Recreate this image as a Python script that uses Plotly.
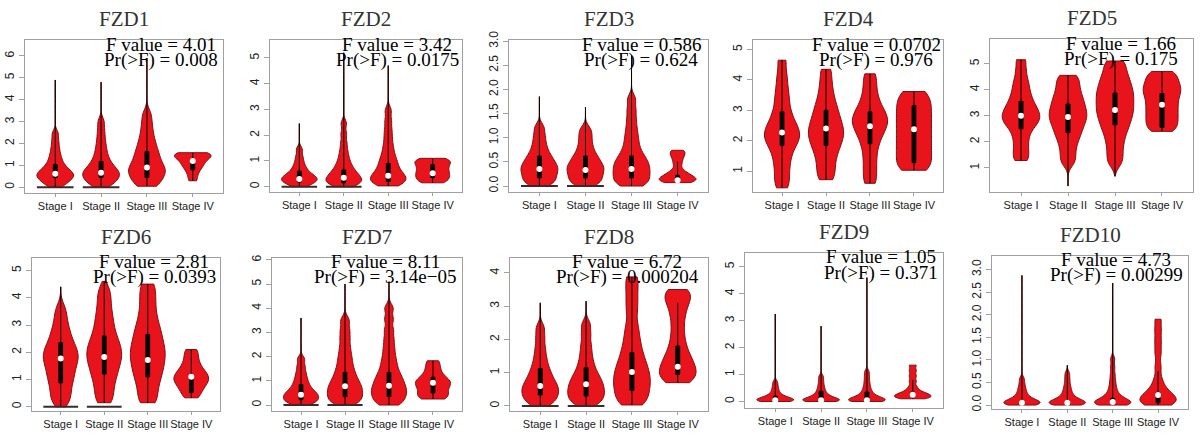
import plotly.graph_objects as go

# ---------------- data ----------------
stages = ["Stage I", "Stage II", "Stage III", "Stage IV"]
genes = ["FZD1", "FZD2", "FZD3", "FZD4", "FZD5", "FZD6", "FZD7", "FZD8", "FZD9", "FZD10"]
f_values = ["4.01", "3.42", "0.586", "0.0702", "1.66", "2.81", "8.11", "6.72", "1.05", "4.73"]
p_values = ["0.008", "0.0175", "0.624", "0.976", "0.175", "0.0393", "3.14e\u221205", "0.000204", "0.371", "0.00299"]

# representative expression values per stage (violin bodies);
# each violin spans the observed min..max of its stage
fzd1_samples = [
    [0.05, 0.15, 0.25, 0.33, 0.4, 0.46, 0.52, 0.57, 0.62, 0.68, 0.75, 0.83, 0.92, 1.04, 1.18, 1.35, 1.55, 1.8, 2.1, 2.45],
    [0.05, 0.15, 0.25, 0.33, 0.42, 0.48, 0.55, 0.62, 0.68, 0.75, 0.83, 0.92, 1.02, 1.15, 1.3, 1.48, 1.7, 1.95, 2.25, 2.6, 3.0],
    [0.05, 0.15, 0.3, 0.45, 0.55, 0.65, 0.75, 0.85, 0.95, 1.05, 1.2, 1.35, 1.5, 1.65, 1.85, 2.05, 2.3, 2.6, 2.95, 3.35],
    [0.3, 0.55, 0.75, 0.9, 1.0, 1.1, 1.2, 1.28, 1.35, 1.42, 1.48, 1.52, 1.55, 1.58],
]
fzd1_bandwidth = [0.17, 0.2, 0.25, 0.15]
fzd1_q1 = [0.45, 0.45, 0.45, 0.8]
fzd1_median = [0.62, 0.67, 0.9, 1.2]
fzd1_q3 = [1.04, 1.18, 1.63, 1.28]
fzd1_min = [0.0, 0.0, 0.05, 0.3]
fzd1_max = [4.9, 4.8, 5.9, 1.58]
fzd1_zero_spike = [1, 1, 0, 0]

fzd2_samples = [
    [0.03, 0.1, 0.15, 0.2, 0.24, 0.28, 0.32, 0.36, 0.4, 0.46, 0.52, 0.6, 0.7, 0.82, 0.98, 1.18, 1.45],
    [0.03, 0.08, 0.13, 0.18, 0.23, 0.28, 0.33, 0.38, 0.44, 0.5, 0.58, 0.66, 0.76, 0.88, 1.02, 1.2, 1.42, 1.7, 2.05, 2.45],
    [0.05, 0.12, 0.18, 0.24, 0.3, 0.36, 0.42, 0.5, 0.58, 0.68, 0.8, 0.92, 1.05, 1.2, 1.4, 1.62, 1.9, 2.2, 2.55, 2.95],
    [0.15, 0.22, 0.3, 0.38, 0.45, 0.52, 0.6, 0.68, 0.76, 0.84, 0.92, 0.98, 1.04, 1.1],
]
fzd2_bandwidth = [0.12, 0.15, 0.17, 0.12]
fzd2_q1 = [0.18, 0.15, 0.2, 0.35]
fzd2_median = [0.3, 0.35, 0.42, 0.52]
fzd2_q3 = [0.6, 0.65, 0.9, 0.85]
fzd2_min = [0.0, 0.0, 0.03, 0.15]
fzd2_max = [2.45, 5.2, 4.7, 1.1]
fzd2_zero_spike = [1, 1, 0, 0]

fzd3_samples = [
    [0.02, 0.07, 0.12, 0.17, 0.22, 0.27, 0.32, 0.36, 0.4, 0.45, 0.5, 0.56, 0.62, 0.7, 0.8, 0.92, 1.06, 1.22],
    [0.02, 0.07, 0.12, 0.17, 0.22, 0.27, 0.32, 0.36, 0.4, 0.45, 0.5, 0.56, 0.62, 0.7, 0.8, 0.92, 1.05, 1.18],
    [0.0, 0.05, 0.1, 0.15, 0.2, 0.25, 0.3, 0.35, 0.4, 0.45, 0.5, 0.56, 0.62, 0.7, 0.8, 0.92, 1.05, 1.2, 1.38, 1.58, 1.8],
    [0.07, 0.09, 0.11, 0.13, 0.15, 0.17, 0.2, 0.23, 0.27, 0.33, 0.45, 0.55, 0.63, 0.69, 0.74],
]
fzd3_bandwidth = [0.09, 0.09, 0.1, 0.06]
fzd3_q1 = [0.17, 0.17, 0.17, 0.1]
fzd3_median = [0.35, 0.33, 0.35, 0.12]
fzd3_q3 = [0.62, 0.62, 0.62, 0.22]
fzd3_min = [0.0, 0.0, 0.0, 0.07]
fzd3_max = [1.85, 1.63, 2.7, 0.74]
fzd3_zero_spike = [1, 1, 0, 0]

fzd4_samples = [
    [0.45, 0.7, 0.95, 1.2, 1.42, 1.62, 1.78, 1.92, 2.02, 2.12, 2.22, 2.32, 2.42, 2.54, 2.68, 2.85, 3.05, 3.3, 3.55, 3.85, 4.2, 4.65],
    [0.72, 0.95, 1.2, 1.45, 1.65, 1.82, 1.97, 2.1, 2.22, 2.34, 2.46, 2.6, 2.75, 2.92, 3.1, 3.32, 3.6, 3.95, 4.35],
    [0.6, 0.9, 1.2, 1.5, 1.78, 2.0, 2.18, 2.32, 2.45, 2.56, 2.66, 2.76, 2.88, 3.0, 3.15, 3.35, 3.6, 3.9, 4.2],
    [1.03, 1.2, 1.4, 1.6, 1.8, 2.0, 2.2, 2.4, 2.6, 2.8, 3.0, 3.2, 3.4, 3.62],
]
fzd4_bandwidth = [0.22, 0.25, 0.22, 0.25]
fzd4_q1 = [1.85, 1.85, 1.9, 1.28]
fzd4_median = [2.27, 2.4, 2.48, 2.38]
fzd4_q3 = [2.95, 3.0, 2.95, 3.15]
fzd4_min = [0.45, 0.72, 0.6, 1.03]
fzd4_max = [4.65, 4.35, 4.2, 3.62]
fzd4_zero_spike = [0, 0, 0, 0]

fzd5_samples = [
    [1.28, 1.52, 1.78, 2.05, 2.3, 2.5, 2.65, 2.76, 2.86, 2.96, 3.06, 3.16, 3.28, 3.4, 3.55, 3.72, 3.92, 4.15, 4.4, 4.75, 5.15],
    [1.2, 1.5, 1.8, 2.05, 2.25, 2.42, 2.58, 2.72, 2.85, 2.97, 3.09, 3.21, 3.34, 3.48, 3.62, 3.78, 3.95, 4.15, 4.35, 4.55],
    [1.2, 1.55, 1.9, 2.2, 2.45, 2.65, 2.83, 3.0, 3.15, 3.3, 3.45, 3.6, 3.75, 3.9, 4.05, 4.22, 4.4, 4.6, 4.85, 5.1],
    [2.4, 2.55, 2.7, 2.85, 3.0, 3.15, 3.3, 3.45, 3.6, 3.75, 3.88, 4.0, 4.12, 4.25, 4.4, 4.55, 4.7],
]
fzd5_bandwidth = [0.2, 0.2, 0.22, 0.2]
fzd5_q1 = [2.5, 2.35, 2.65, 2.55]
fzd5_median = [3.0, 2.95, 3.22, 3.42]
fzd5_q3 = [3.55, 3.45, 3.87, 3.85]
fzd5_min = [1.28, 0.3, 0.68, 2.4]
fzd5_max = [5.15, 4.55, 5.1, 4.7]
fzd5_zero_spike = [0, 0, 0, 0]

fzd6_samples = [
    [0.1, 0.3, 0.5, 0.7, 0.9, 1.05, 1.2, 1.35, 1.5, 1.62, 1.74, 1.85, 1.96, 2.08, 2.2, 2.35, 2.52, 2.72, 2.95, 3.25, 3.6],
    [0.15, 0.4, 0.65, 0.9, 1.1, 1.28, 1.45, 1.6, 1.74, 1.87, 2.0, 2.13, 2.27, 2.42, 2.6, 2.8, 3.05, 3.3, 3.6, 3.95, 4.3],
    [0.15, 0.4, 0.7, 0.95, 1.15, 1.35, 1.52, 1.68, 1.85, 2.0, 2.15, 2.32, 2.5, 2.7, 2.9, 3.15, 3.45, 3.8, 4.15, 4.5],
    [0.33, 0.5, 0.65, 0.78, 0.88, 0.97, 1.05, 1.13, 1.22, 1.33, 1.47, 1.65, 1.88, 2.1],
]
fzd6_bandwidth = [0.25, 0.27, 0.28, 0.18]
fzd6_q1 = [0.88, 1.2, 1.1, 0.52]
fzd6_median = [1.77, 1.83, 1.72, 1.1]
fzd6_q3 = [2.35, 2.6, 2.65, 1.12]
fzd6_min = [0.0, 0.15, 0.15, 0.33]
fzd6_max = [4.4, 4.6, 4.5, 2.1]
fzd6_zero_spike = [1, 1, 0, 0]

fzd7_samples = [
    [0.03, 0.1, 0.17, 0.23, 0.29, 0.35, 0.41, 0.47, 0.54, 0.62, 0.72, 0.84, 0.98, 1.15, 1.35, 1.6, 1.9],
    [0.05, 0.15, 0.25, 0.35, 0.45, 0.55, 0.65, 0.75, 0.85, 0.97, 1.1, 1.25, 1.42, 1.62, 1.85, 2.1, 2.4, 2.75, 3.1, 3.5],
    [0.0, 0.12, 0.24, 0.35, 0.45, 0.55, 0.65, 0.75, 0.86, 0.98, 1.1, 1.24, 1.4, 1.6, 1.82, 2.08, 2.38, 2.72, 3.1, 3.55, 4.0],
    [0.25, 0.3, 0.4, 0.5, 0.6, 0.7, 0.8, 0.88, 0.95, 1.03, 1.12, 1.25, 1.42, 1.62, 1.83],
]
fzd7_bandwidth = [0.13, 0.18, 0.18, 0.15]
fzd7_q1 = [0.22, 0.35, 0.35, 0.5]
fzd7_median = [0.43, 0.78, 0.8, 0.92]
fzd7_q3 = [0.85, 1.35, 1.35, 1.15]
fzd7_min = [0.0, 0.0, 0.0, 0.25]
fzd7_max = [3.6, 5.0, 5.1, 1.83]
fzd7_zero_spike = [1, 1, 0, 0]

fzd8_samples = [
    [0.03, 0.12, 0.2, 0.28, 0.35, 0.42, 0.49, 0.56, 0.63, 0.71, 0.8, 0.9, 1.02, 1.15, 1.32, 1.52, 1.76, 2.05, 2.35],
    [0.03, 0.12, 0.2, 0.28, 0.35, 0.43, 0.5, 0.58, 0.66, 0.74, 0.83, 0.93, 1.05, 1.2, 1.38, 1.6, 1.85, 2.15, 2.45],
    [0.03, 0.15, 0.28, 0.4, 0.52, 0.63, 0.74, 0.85, 0.96, 1.08, 1.2, 1.34, 1.5, 1.68, 1.9, 2.15, 2.45, 2.85, 3.2, 3.55, 3.88],
    [0.7, 0.8, 0.9, 1.0, 1.1, 1.2, 1.32, 1.45, 1.6, 1.8, 2.05, 2.35, 2.65, 2.9, 3.1, 3.25, 3.38, 3.5],
]
fzd8_bandwidth = [0.15, 0.15, 0.2, 0.2]
fzd8_q1 = [0.33, 0.3, 0.47, 0.95]
fzd8_median = [0.6, 0.65, 1.02, 1.18]
fzd8_q3 = [1.12, 1.15, 1.6, 1.8]
fzd8_min = [0.0, 0.0, 0.03, 0.7]
fzd8_max = [3.1, 3.15, 3.88, 3.5]
fzd8_zero_spike = [1, 1, 0, 0]

fzd9_samples = [
    [0.0, 0.01, 0.02, 0.03, 0.04, 0.05, 0.06, 0.08, 0.1, 0.12, 0.15, 0.18, 0.22, 0.28, 0.36, 0.46, 0.58, 0.72],
    [0.0, 0.01, 0.02, 0.03, 0.04, 0.05, 0.07, 0.09, 0.12, 0.15, 0.19, 0.24, 0.3, 0.38, 0.48, 0.6, 0.75, 0.92],
    [0.0, 0.01, 0.02, 0.03, 0.04, 0.05, 0.07, 0.09, 0.12, 0.15, 0.19, 0.24, 0.3, 0.38, 0.48, 0.6, 0.75, 0.92, 1.1],
    [0.1, 0.13, 0.16, 0.19, 0.22, 0.25, 0.29, 0.34, 0.42, 0.55, 0.75, 0.95, 1.15, 1.35],
]
fzd9_bandwidth = [0.08, 0.08, 0.09, 0.08]
fzd9_q1 = [0.02, 0.02, 0.03, 0.2]
fzd9_median = [0.05, 0.05, 0.05, 0.25]
fzd9_q3 = [0.2, 0.38, 0.35, 0.35]
fzd9_min = [0.0, 0.0, 0.0, 0.1]
fzd9_max = [3.25, 2.8, 4.6, 1.35]
fzd9_zero_spike = [0, 0, 0, 0]

fzd10_samples = [
    [0.0, 0.01, 0.02, 0.03, 0.04, 0.05, 0.06, 0.07, 0.09, 0.11, 0.13, 0.16, 0.2, 0.25, 0.31, 0.38, 0.47, 0.58],
    [0.0, 0.01, 0.02, 0.03, 0.04, 0.05, 0.06, 0.07, 0.09, 0.11, 0.13, 0.16, 0.2, 0.25, 0.31, 0.38, 0.47, 0.58, 0.7],
    [0.0, 0.01, 0.02, 0.03, 0.04, 0.05, 0.06, 0.08, 0.1, 0.12, 0.15, 0.18, 0.22, 0.28, 0.35, 0.44, 0.55, 0.68, 0.84, 1.02],
    [0.0, 0.03, 0.06, 0.09, 0.12, 0.16, 0.2, 0.25, 0.32, 0.42, 0.58, 0.85, 1.15, 1.4, 1.65, 1.9],
]
fzd10_bandwidth = [0.06, 0.06, 0.07, 0.12]
fzd10_q1 = [0.02, 0.02, 0.03, 0.05]
fzd10_median = [0.05, 0.05, 0.07, 0.22]
fzd10_q3 = [0.1, 0.1, 0.15, 0.28]
fzd10_min = [0.0, 0.0, 0.0, 0.0]
fzd10_max = [2.87, 0.88, 2.7, 1.9]
fzd10_zero_spike = [0, 0, 0, 0]

# whisker ends drawn by the inner black line (Stage IV whiskers stop below the top)
fzd1_whisker_top = [4.9, 4.8, 5.9, 1.58]
fzd2_whisker_top = [2.45, 5.2, 4.7, 1.08]
fzd3_whisker_top = [1.85, 1.63, 2.7, 0.5]
fzd4_whisker_top = [4.65, 4.35, 4.2, 3.62]
fzd5_whisker_top = [5.15, 4.55, 5.1, 4.7]
fzd6_whisker_top = [4.4, 4.6, 4.5, 2.1]
fzd7_whisker_top = [3.6, 5.0, 5.1, 1.83]
fzd8_whisker_top = [3.1, 3.15, 3.88, 3.1]
fzd9_whisker_top = [3.25, 2.8, 4.6, 0.8]
fzd10_whisker_top = [2.87, 0.88, 2.7, 0.75]

y_tick_step = [1, 1, 0.5, 1, 1, 1, 1, 1, 1, 0.5]

# ---------------- layout geometry (pixels) ----------------
W, H = 1200, 435
frames = [  # left, right, top, bottom
    (25, 223, 32, 189), (270, 462, 32, 188), (509, 708, 32, 188), (753, 943, 32, 188), (990, 1193, 31, 188),
    (32, 220, 256, 413), (272, 462, 256, 413), (510, 708, 256, 413), (745, 943, 251, 410), (992, 1188, 254, 411),
]
y_ranges = [
    [-0.25, 6.72], [-0.2, 5.69], [-0.12, 3.02], [0.32, 5.31], [0.08, 5.94],
    [-0.14, 5.46], [-0.23, 6.08], [-0.14, 4.45], [-0.23, 5.51], [-0.08, 3.30],
]
text_centers = [161, 397, 641, 876, 1121, 154, 385, 627, 881, 1116]

all_samples = [fzd1_samples, fzd2_samples, fzd3_samples, fzd4_samples, fzd5_samples,
               fzd6_samples, fzd7_samples, fzd8_samples, fzd9_samples, fzd10_samples]
all_bw = [fzd1_bandwidth, fzd2_bandwidth, fzd3_bandwidth, fzd4_bandwidth, fzd5_bandwidth,
          fzd6_bandwidth, fzd7_bandwidth, fzd8_bandwidth, fzd9_bandwidth, fzd10_bandwidth]
all_q1 = [fzd1_q1, fzd2_q1, fzd3_q1, fzd4_q1, fzd5_q1, fzd6_q1, fzd7_q1, fzd8_q1, fzd9_q1, fzd10_q1]
all_med = [fzd1_median, fzd2_median, fzd3_median, fzd4_median, fzd5_median,
           fzd6_median, fzd7_median, fzd8_median, fzd9_median, fzd10_median]
all_q3 = [fzd1_q3, fzd2_q3, fzd3_q3, fzd4_q3, fzd5_q3, fzd6_q3, fzd7_q3, fzd8_q3, fzd9_q3, fzd10_q3]
all_min = [fzd1_min, fzd2_min, fzd3_min, fzd4_min, fzd5_min,
           fzd6_min, fzd7_min, fzd8_min, fzd9_min, fzd10_min]
all_max = [fzd1_max, fzd2_max, fzd3_max, fzd4_max, fzd5_max,
           fzd6_max, fzd7_max, fzd8_max, fzd9_max, fzd10_max]
all_wtop = [fzd1_whisker_top, fzd2_whisker_top, fzd3_whisker_top, fzd4_whisker_top, fzd5_whisker_top,
            fzd6_whisker_top, fzd7_whisker_top, fzd8_whisker_top, fzd9_whisker_top, fzd10_whisker_top]
all_zero = [fzd1_zero_spike, fzd2_zero_spike, fzd3_zero_spike, fzd4_zero_spike, fzd5_zero_spike,
            fzd6_zero_spike, fzd7_zero_spike, fzd8_zero_spike, fzd9_zero_spike, fzd10_zero_spike]

RED = "#E8131B"
OUTLINE = "#7A1014"
FRAME = "#A0A0A0"
SANS = "Liberation Sans"
SERIF = "Liberation Serif"
positions = list(range(len(stages)))
VWIDTH = 0.8

fig = go.Figure()
layout = dict(
    width=W, height=H, margin=dict(l=0, r=0, t=0, b=0),
    paper_bgcolor="white", plot_bgcolor="white", showlegend=False,
    violinmode="overlay", boxmode="overlay",
    font=dict(family=SANS, color="#222"),
)
annotations = []

for k, gene in enumerate(genes):
    n = k + 1
    xa = "x" if n == 1 else f"x{n}"
    ya = "y" if n == 1 else f"y{n}"
    L, R, T, B = frames[k]

    for i, stage in enumerate(stages):
        fig.add_trace(go.Violin(
            x0=positions[i], y=all_samples[k][i], xaxis=xa, yaxis=ya,
            width=VWIDTH, bandwidth=all_bw[k][i],
            spanmode="manual", span=[all_min[k][i], all_max[k][i]], scalemode="width",
            fillcolor=RED, line=dict(color=OUTLINE, width=1), opacity=1,
            points=False, box_visible=False, meanline_visible=False,
            name=f"{gene} {stage}", hoverinfo="skip",
        ))
        if all_zero[k][i]:
            fig.add_trace(go.Scatter(
                x=[positions[i] - VWIDTH / 2, positions[i] + VWIDTH / 2], y=[0, 0],
                xaxis=xa, yaxis=ya, mode="lines",
                line=dict(color="#3A2A2A", width=2), hoverinfo="skip",
            ))

    # whisker line, interquartile box and median dot
    fig.add_trace(go.Box(
        x=positions, q1=all_q1[k], median=all_med[k], q3=all_q3[k],
        lowerfence=all_min[k], upperfence=all_wtop[k],
        xaxis=xa, yaxis=ya, width=0.085, whiskerwidth=0,
        fillcolor="black", line=dict(color="black", width=1),
        boxpoints=False, hoverinfo="skip",
    ))
    fig.add_trace(go.Scatter(
        x=positions, y=all_med[k], xaxis=xa, yaxis=ya, mode="markers",
        marker=dict(color="white", size=6, line=dict(width=0)), hoverinfo="skip",
    ))

    axis_common = dict(
        showline=True, mirror=True, linecolor=FRAME, linewidth=1,
        showgrid=False, zeroline=False, ticks="outside", tickcolor=FRAME,
        tickfont=dict(family=SANS, size=12, color="#222"),
    )
    layout["xaxis" if n == 1 else f"xaxis{n}"] = dict(
        axis_common, domain=[L / W, R / W], range=[-0.66, 3.66], anchor=ya,
        tickmode="array", tickvals=positions, ticktext=stages, ticklen=3, tickangle=0,
        tickfont=dict(family=SANS, size=11, color="#222"),
    )
    layout["yaxis" if n == 1 else f"yaxis{n}"] = dict(
        axis_common, domain=[1 - B / H, 1 - T / H], range=y_ranges[k], anchor=xa,
        dtick=y_tick_step[k], tick0=0, tickformat=".1f" if y_tick_step[k] < 1 else "d",
        tickangle=-90, ticklen=5,
    )

    annotations.append(dict(
        text=gene, xref="paper", yref="paper", x=(L + R) / 2 / W, y=1 - (T - 22) / H,
        xanchor="center", yanchor="middle", showarrow=False,
        font=dict(family=SERIF, size=21, color="#333"),
    ))
    annotations.append(dict(
        text=f"F value = {f_values[k]}", xref="paper", yref="paper",
        x=text_centers[k] / W, y=1 - (T + 4) / H, xanchor="center", yanchor="middle",
        showarrow=False, font=dict(family=SERIF, size=19, color="black"),
    ))
    annotations.append(dict(
        text=f"Pr(>F) = {p_values[k]}", xref="paper", yref="paper",
        x=text_centers[k] / W, y=1 - (T + 20) / H, xanchor="center", yanchor="middle",
        showarrow=False, font=dict(family=SERIF, size=19, color="black"),
    ))

layout["annotations"] = annotations
fig.update_layout(**layout)
fig.write_html("out.html")
